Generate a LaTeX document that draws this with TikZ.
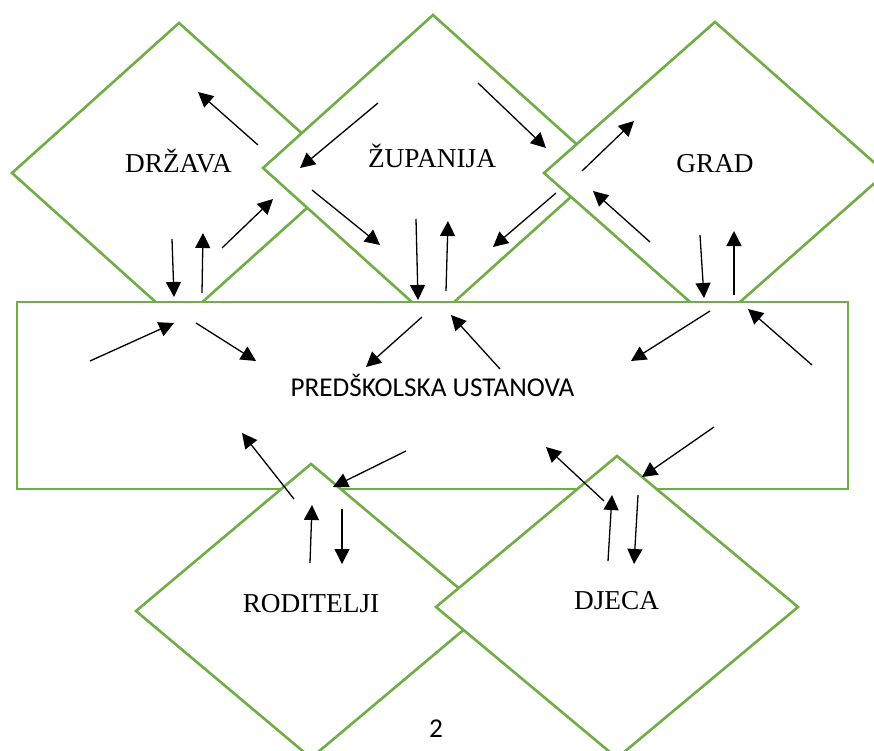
\documentclass[tikz,border=0pt]{standalone}
\usepackage{fontspec}
\setmainfont{Liberation Serif}
\newfontfamily\carlito{Carlito}
\usetikzlibrary{shapes.geometric,arrows.meta}
\definecolor{officegreen}{RGB}{112,173,71}
\tikzset{
  dia/.style={shape=diamond, draw=officegreen, fill=white, line width=2.6pt, inner sep=0pt, outer sep=0pt},
  box/.style={shape=rectangle, draw=officegreen, fill=white, line width=2.6pt, inner sep=0pt, outer sep=0pt},
  lbl/.style={anchor=base, inner sep=0pt, font=\fontsize{27.3}{31}\selectfont},
  slbl/.style={anchor=base, inner sep=0pt, font=\carlito\fontsize{27.2}{31}\selectfont},
  arr/.style={line width=1.3pt, -{Triangle[length=15pt,width=15pt]}}
}
\begin{document}
\begin{tikzpicture}[x=1pt,y=-1pt]
\useasboundingbox (0,0) rectangle (874,751);
\clip (0,0) rectangle (874,751);
\fill[white] (0,0) rectangle (874,751);
% top diamonds
\node[dia, minimum width=334pt, minimum height=300pt] (drzava) at (179,173) {};
\node[dia, minimum width=340pt, minimum height=306pt] (zupanija) at (433,168) {};
\node[dia, minimum width=342pt, minimum height=302pt] (grad) at (715,173) {};
% rectangle
\node[box, minimum width=831pt, minimum height=187pt] (ustanova) at (432.5,395.5) {};
% bottom diamonds
\node[dia, minimum width=350pt, minimum height=294pt] (roditelji) at (311,611) {};
\node[dia, minimum width=362pt, minimum height=302pt] (djeca) at (617,607) {};
% labels
\node[lbl] (tdrzava) at (178.5,173) {DRŽAVA};
\node[lbl] (tzupanija) at (432,168) {ŽUPANIJA};
\node[lbl] (tgrad) at (715,173) {GRAD};
\node[lbl] (troditelji) at (311,612) {RODITELJI};
\node[lbl] (tdjeca) at (616.5,609) {DJECA};
\node[slbl] (tustanova) at (432.5,396) {PREDŠKOLSKA USTANOVA};
\node[slbl] (pagenum) at (436,737) {2};
% arrows
\foreach \i/\sx/\sy/\ex/\ey in {
  1/258/145/198/92,
  2/378/103/300/168,
  3/222/248/273/199,
  4/172/239/174/297,
  5/202/293/203/233,
  6/312/190/380/245,
  7/416/219/418/300,
  8/478/83/546/148,
  9/582/171/634/121,
  10/556/193/493/247,
  11/446/291/448/221,
  12/650/242/593/191,
  13/700/235/704/298,
  14/734/295/734/231,
  15/90/361/174/323,
  16/196/323/256/361,
  17/422/317/366/367,
  18/294/499/242/433,
  19/406/451/333/487,
  20/500/369/451/315,
  21/710/311/631/361,
  22/812/365/748/309,
  23/714/427/642/477,
  24/604/501/546/447,
  25/310/563/312/505,
  26/342/509/342/564,
  27/608/561/612/495,
  28/638/495/634/564}{
  \coordinate (s\i) at (\sx,\sy);
  \coordinate (e\i) at (\ex,\ey);
  \draw[arr] (s\i) -- (e\i);
}
\end{tikzpicture}
\end{document}
